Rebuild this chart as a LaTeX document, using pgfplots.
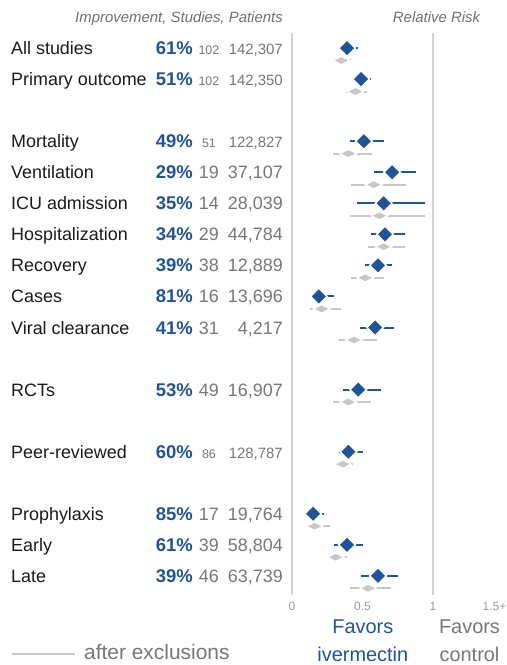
\documentclass[border=0pt]{standalone}
\usepackage{pgfplots}
\usepackage{pgfplotstable}
\pgfplotsset{compat=1.18}
\usepackage{fontspec}
\setmainfont{Liberation Sans}
\definecolor{ivblue}{HTML}{1F5597}
\definecolor{lgray}{HTML}{C8C8C8}
\definecolor{vline}{HTML}{D2D2D2}
\definecolor{numgray}{HTML}{777777}
\definecolor{tickgray}{HTML}{9A9A9A}
\definecolor{hdrgray}{HTML}{707070}
\definecolor{labblack}{HTML}{1A1A1A}

\newcommand{\flab}{\fontsize{18}{20}\selectfont}
\newcommand{\fpct}{\fontsize{18.5}{20}\selectfont\bfseries}
\newcommand{\fnum}{\fontsize{18}{20}\selectfont}
\newcommand{\fsstud}{\fontsize{12.5}{14}\selectfont}
\newcommand{\fspat}{\fontsize{15}{17}\selectfont}

% row, main estimate, CI low, CI high
\pgfplotstableread{
y c lo hi
0 0.39 0.33 0.47
1 0.49 0.45 0.56
3 0.51 0.41 0.65
4 0.71 0.58 0.88
5 0.65 0.46 0.94
6 0.66 0.56 0.80
7 0.61 0.52 0.71
8 0.19 0.14 0.30
9 0.59 0.48 0.72
11 0.47 0.36 0.63
13 0.40 0.33 0.50
15 0.15 0.11 0.23
16 0.39 0.30 0.50
17 0.61 0.49 0.75
}\bluedata

\pgfplotstableread{
y c lo hi
0 0.35 0.30 0.42
1 0.45 0.38 0.53
3 0.40 0.29 0.57
4 0.58 0.42 0.81
5 0.62 0.41 0.94
6 0.65 0.54 0.80
7 0.52 0.42 0.65
8 0.21 0.13 0.35
9 0.44 0.33 0.60
11 0.40 0.29 0.56
13 0.36 0.30 0.43
15 0.16 0.11 0.27
16 0.31 0.26 0.39
17 0.54 0.41 0.70
}\graydata

\newcommand{\rowtext}[7]{%
  \node[anchor=base west, inner sep=0pt, font=\flab, text=labblack, yshift=-6.5bp] at (axis cs:-1.993,#1) {#2};
  \node[anchor=base east, inner sep=0pt, font=\fpct, text=ivblue, yshift=-6.5bp] at (axis cs:-0.702,#1) {#3};
  \node[anchor=base, inner sep=0pt, font=#6, text=numgray, yshift=-6.5bp] at (axis cs:-0.589,#1) {#4};
  \node[anchor=base east, inner sep=0pt, font=#7, text=numgray, yshift=-6.5bp] at (axis cs:-0.064,#1) {#5};
}

\begin{document}
\begin{tikzpicture}
\path[use as bounding box] (0bp,0bp) rectangle (507bp,665bp);
\begin{axis}[
  at={(397.75bp,349.6bp)}, anchor=center,
  scale only axis, width=211.5bp, height=565.7bp,
  xmin=0, xmax=1.5, ymin=-0.5, ymax=17.72, y dir=reverse,
  hide y axis, axis x line*=bottom, x axis line style={draw=none},
  xtick={0,0.5,1,1.436}, xticklabels={0,0.5,1,1.5+},
  major tick length=0pt,
  xticklabel style={font=\fontsize{12}{12}\selectfont, text=tickgray, anchor=base, inner sep=0pt, yshift=-11.75bp},
  clip=false,
]
\addplot[vline, line width=2bp, forget plot] coordinates {(0,-0.49) (0,17.62)};
\addplot[vline, line width=2bp, forget plot] coordinates {(1,-0.49) (1,17.62)};

% gray: after exclusions
\addplot[draw=none, mark=none, forget plot,
  error bars/.cd, x dir=both, x explicit, error mark=none,
  error bar style={draw=lgray, line width=2bp}]
  table[x=c, y expr=\thisrow{y}+0.4,
        x error plus expr=\thisrow{hi}-\thisrow{c},
        x error minus expr=\thisrow{c}-\thisrow{lo}] {\graydata};
\addplot[only marks, mark=square*, mark size=5.9bp, forget plot,
  mark options={yscale=0.5, rotate=45, fill=lgray, draw=white, line width=1.2bp}]
  table[x=c, y expr=\thisrow{y}+0.4] {\graydata};

% blue: all studies
\addplot[draw=none, mark=none, forget plot,
  error bars/.cd, x dir=both, x explicit, error mark=none,
  error bar style={draw=ivblue, line width=2bp}]
  table[x=c, y=y,
        x error plus expr=\thisrow{hi}-\thisrow{c},
        x error minus expr=\thisrow{c}-\thisrow{lo}] {\bluedata};
\addplot[only marks, mark=square*, mark size=5.9bp, forget plot,
  mark options={rotate=45, fill=ivblue, draw=white, line width=1.5bp}]
  table[x=c, y=y] {\bluedata};

\rowtext{0}{All studies}{61\%}{102}{142,307}{\fsstud}{\fspat}
\rowtext{1}{Primary outcome}{51\%}{102}{142,350}{\fsstud}{\fspat}
\rowtext{3}{Mortality}{49\%}{51}{122,827}{\fsstud}{\fspat}
\rowtext{4}{Ventilation}{29\%}{19}{37,107}{\fnum}{\fnum}
\rowtext{5}{ICU admission}{35\%}{14}{28,039}{\fnum}{\fnum}
\rowtext{6}{Hospitalization}{34\%}{29}{44,784}{\fnum}{\fnum}
\rowtext{7}{Recovery}{39\%}{38}{12,889}{\fnum}{\fnum}
\rowtext{8}{Cases}{81\%}{16}{13,696}{\fnum}{\fnum}
\rowtext{9}{Viral clearance}{41\%}{31}{4,217}{\fnum}{\fnum}
\rowtext{11}{RCTs}{53\%}{49}{16,907}{\fnum}{\fnum}
\rowtext{13}{Peer-reviewed}{60\%}{86}{128,787}{\fsstud}{\fspat}
\rowtext{15}{Prophylaxis}{85\%}{17}{19,764}{\fnum}{\fnum}
\rowtext{16}{Early}{61\%}{39}{58,804}{\fnum}{\fnum}
\rowtext{17}{Late}{39\%}{46}{63,739}{\fnum}{\fnum}
\end{axis}

% headers
\node[anchor=base east, inner sep=0pt, font=\fontsize{15}{17}\selectfont\itshape, text=hdrgray] at (283bp,642.3bp) {Improvement, Studies, Patients};
\node[anchor=base, inner sep=0pt, font=\fontsize{15}{17}\selectfont\itshape, text=hdrgray] at (436.5bp,642.3bp) {Relative Risk};

% bottom labels
\node[anchor=base, inner sep=0pt, font=\fontsize{20}{22}\selectfont, text=ivblue] at (362.8bp,32bp) {Favors};
\node[anchor=base, inner sep=0pt, font=\fontsize{20}{22}\selectfont, text=ivblue] at (362.8bp,4bp) {ivermectin};
\node[anchor=base, inner sep=0pt, font=\fontsize{20}{22}\selectfont, text=numgray] at (469.5bp,32bp) {Favors};
\node[anchor=base, inner sep=0pt, font=\fontsize{20}{22}\selectfont, text=numgray] at (469.5bp,4bp) {control};

% legend
\draw[lgray, line width=2bp] (11.7bp,11bp) -- (75bp,11bp);
\node[anchor=base west, inner sep=0pt, font=\fontsize{21}{23}\selectfont, text=numgray] at (84bp,6bp) {after exclusions};
\end{tikzpicture}
\end{document}
